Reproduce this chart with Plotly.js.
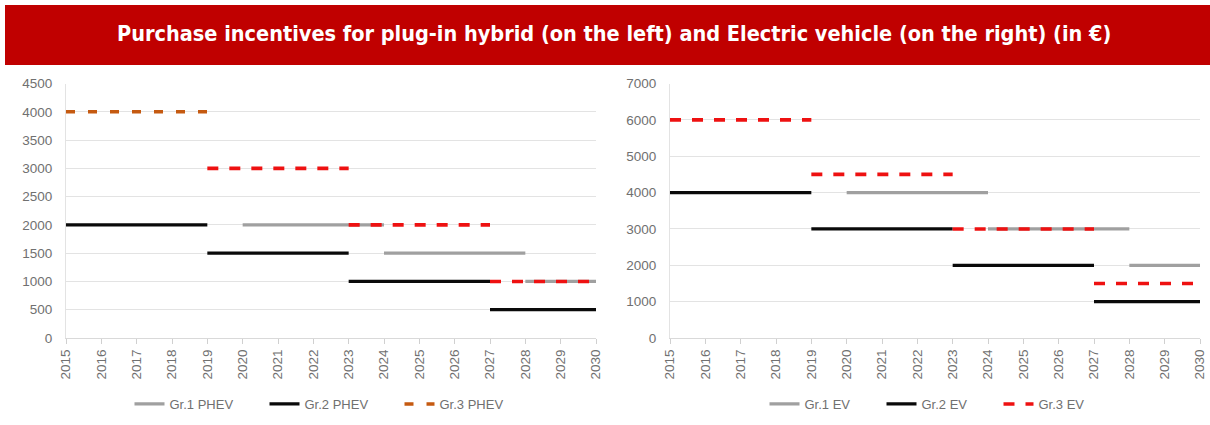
<!DOCTYPE html>
<html>
<head>
<meta charset="utf-8">
<script src="https://cdn.plot.ly/plotly-3.0.1.min.js"></script>
<style>
html,body{margin:0;padding:0;background:#fff;}
#chart{width:1210px;height:425px;}
</style>
</head>
<body>
<div id="chart"></div>
<script>
// ---- Data ----
const years = [2015,2016,2017,2018,2019,2020,2021,2022,2023,2024,2025,2026,2027,2028,2029,2030];

// Plug-in hybrid (left)
const phevGr1Start = [2020, 2024, 2028];
const phevGr1End   = [2024, 2028, 2030];
const phevGr1Value = [2000, 1500, 1000];

const phevGr2Start = [2015, 2019, 2023, 2027];
const phevGr2End   = [2019, 2023, 2027, 2030];
const phevGr2Value = [2000, 1500, 1000, 500];

const phevGr3Start = [2015, 2019, 2023, 2027];
const phevGr3End   = [2019, 2023, 2027, 2030];
const phevGr3Value = [4000, 3000, 2000, 1000];

// Electric vehicle (right)
const evGr1Start = [2020, 2024, 2028];
const evGr1End   = [2024, 2028, 2030];
const evGr1Value = [4000, 3000, 2000];

const evGr2Start = [2015, 2019, 2023, 2027];
const evGr2End   = [2019, 2023, 2027, 2030];
const evGr2Value = [4000, 3000, 2000, 1000];

const evGr3Start = [2015, 2019, 2023, 2027];
const evGr3End   = [2019, 2023, 2027, 2030];
const evGr3Value = [6000, 4500, 3000, 1500];

const titleText = "Purchase incentives for plug-in hybrid (on the left) and Electric vehicle (on the right) (in €)";

// ---- Helpers ----
function segs(s, e, v, from, to) {
  from = from || 0; to = (to === undefined) ? s.length : to;
  const x = [], y = [];
  for (let i = from; i < to; i++) {
    x.push(s[i], e[i], null);
    y.push(v[i], v[i], null);
  }
  return {x, y};
}

const W = 1210, H = 425;
const GRAY = '#A0A0A0', BLACK = '#0A0A0A', RED = '#EE1111', ORANGE = '#C55A11';
const SOLIDW = 3.2, DASHW = 3.6, DASH = '11px,11px';

function lineTrace(seg, name, color, width, dash, xa, ya, legend, showlegend) {
  return {
    type: 'scatter', mode: 'lines', x: seg.x, y: seg.y, name: name,
    xaxis: xa, yaxis: ya, legend: legend, showlegend: showlegend,
    connectgaps: false, hoverinfo: 'skip',
    line: {color: color, width: width, dash: dash}
  };
}

const traces = [
  lineTrace(segs(phevGr1Start, phevGr1End, phevGr1Value), 'Gr.1 PHEV', GRAY, SOLIDW, 'solid', 'x', 'y', 'legend', true),
  lineTrace(segs(phevGr2Start, phevGr2End, phevGr2Value), 'Gr.2 PHEV', BLACK, SOLIDW, 'solid', 'x', 'y', 'legend', true),
  lineTrace(segs(phevGr3Start, phevGr3End, phevGr3Value, 0, 1), 'Gr.3 PHEV', ORANGE, DASHW, '9px,13px', 'x', 'y', 'legend', true),
  lineTrace(segs(phevGr3Start, phevGr3End, phevGr3Value, 1), 'Gr.3 PHEV', RED, DASHW, DASH, 'x', 'y', 'legend', false),

  lineTrace(segs(evGr1Start, evGr1End, evGr1Value), 'Gr.1 EV', GRAY, SOLIDW, 'solid', 'x2', 'y2', 'legend2', true),
  lineTrace(segs(evGr2Start, evGr2End, evGr2Value), 'Gr.2 EV', BLACK, SOLIDW, 'solid', 'x2', 'y2', 'legend2', true),
  lineTrace(segs(evGr3Start, evGr3End, evGr3Value), 'Gr.3 EV', RED, DASHW, DASH, 'x2', 'y2', 'legend2', true)
];

const FONT = 'Liberation Sans, Arial, sans-serif';
const tickFont = {family: FONT, size: 13.5, color: '#707070'};
const GRID = '#E3E3E3';

function xAxis(domain, anchor) {
  return {
    domain: domain, anchor: anchor, range: [2015, 2030],
    tickmode: 'array', tickvals: years, ticktext: years.map(String),
    tickangle: -90, ticks: 'outside', ticklen: 5, tickcolor: '#D0D0D0', tickwidth: 1,
    showline: true, linecolor: '#D9D9D9', linewidth: 1,
    showgrid: false, zeroline: false, fixedrange: true,
    tickfont: tickFont, automargin: false
  };
}
function yAxis(domain, anchor, max, dtick) {
  return {
    domain: domain, anchor: anchor, range: [0, max], dtick: dtick, tick0: 0,
    showgrid: true, gridcolor: GRID, gridwidth: 1,
    showline: true, linecolor: '#E3E3E3', linewidth: 1,
    zeroline: false, ticks: '', ticklabelstandoff: 10,
    tickfont: tickFont, fixedrange: true, automargin: false
  };
}

const yDom = [(H - 338) / H, (H - 83.5) / H];
const legendFont = {family: FONT, size: 13, color: '#707070'};

const layout = {
  width: W, height: H,
  margin: {l: 0, r: 0, t: 0, b: 0},
  paper_bgcolor: '#FFFFFF', plot_bgcolor: '#FFFFFF',
  showlegend: true,
  xaxis: xAxis([66 / W, 596 / W], 'y'),
  yaxis: yAxis(yDom, 'x', 4500, 500),
  xaxis2: xAxis([670 / W, 1200 / W], 'y2'),
  yaxis2: yAxis(yDom, 'x2', 7000, 1000),
  legend: {
    orientation: 'h', x: 332 / W, xanchor: 'center', y: (H - 404) / H, yanchor: 'middle',
    font: legendFont, entrywidth: 90, entrywidthmode: 'pixels',
    bgcolor: 'rgba(0,0,0,0)', itemclick: false, itemdoubleclick: false
  },
  legend2: {
    orientation: 'h', x: 940 / W, xanchor: 'center', y: (H - 404) / H, yanchor: 'middle',
    font: legendFont, entrywidth: 72, entrywidthmode: 'pixels',
    bgcolor: 'rgba(0,0,0,0)', itemclick: false, itemdoubleclick: false
  },
  shapes: [{
    type: 'rect', xref: 'paper', yref: 'paper',
    x0: 5 / W, x1: 1, y0: (H - 65) / H, y1: (H - 5) / H,
    fillcolor: '#C00000', line: {width: 0}, layer: 'below'
  }],
  annotations: [{
    xref: 'paper', yref: 'paper', x: 614 / W, y: (H - 34) / H,
    xanchor: 'center', yanchor: 'middle', showarrow: false,
    text: '<b>' + titleText + '</b>',
    font: {family: 'Liberation Sans Narrow, DejaVu Sans Condensed, Arial Narrow, sans-serif', size: 21.5, color: '#FFFFFF'}
  }]
};

Plotly.newPlot('chart', traces, layout, {displayModeBar: false, staticPlot: true});
</script>
</body>
</html>
